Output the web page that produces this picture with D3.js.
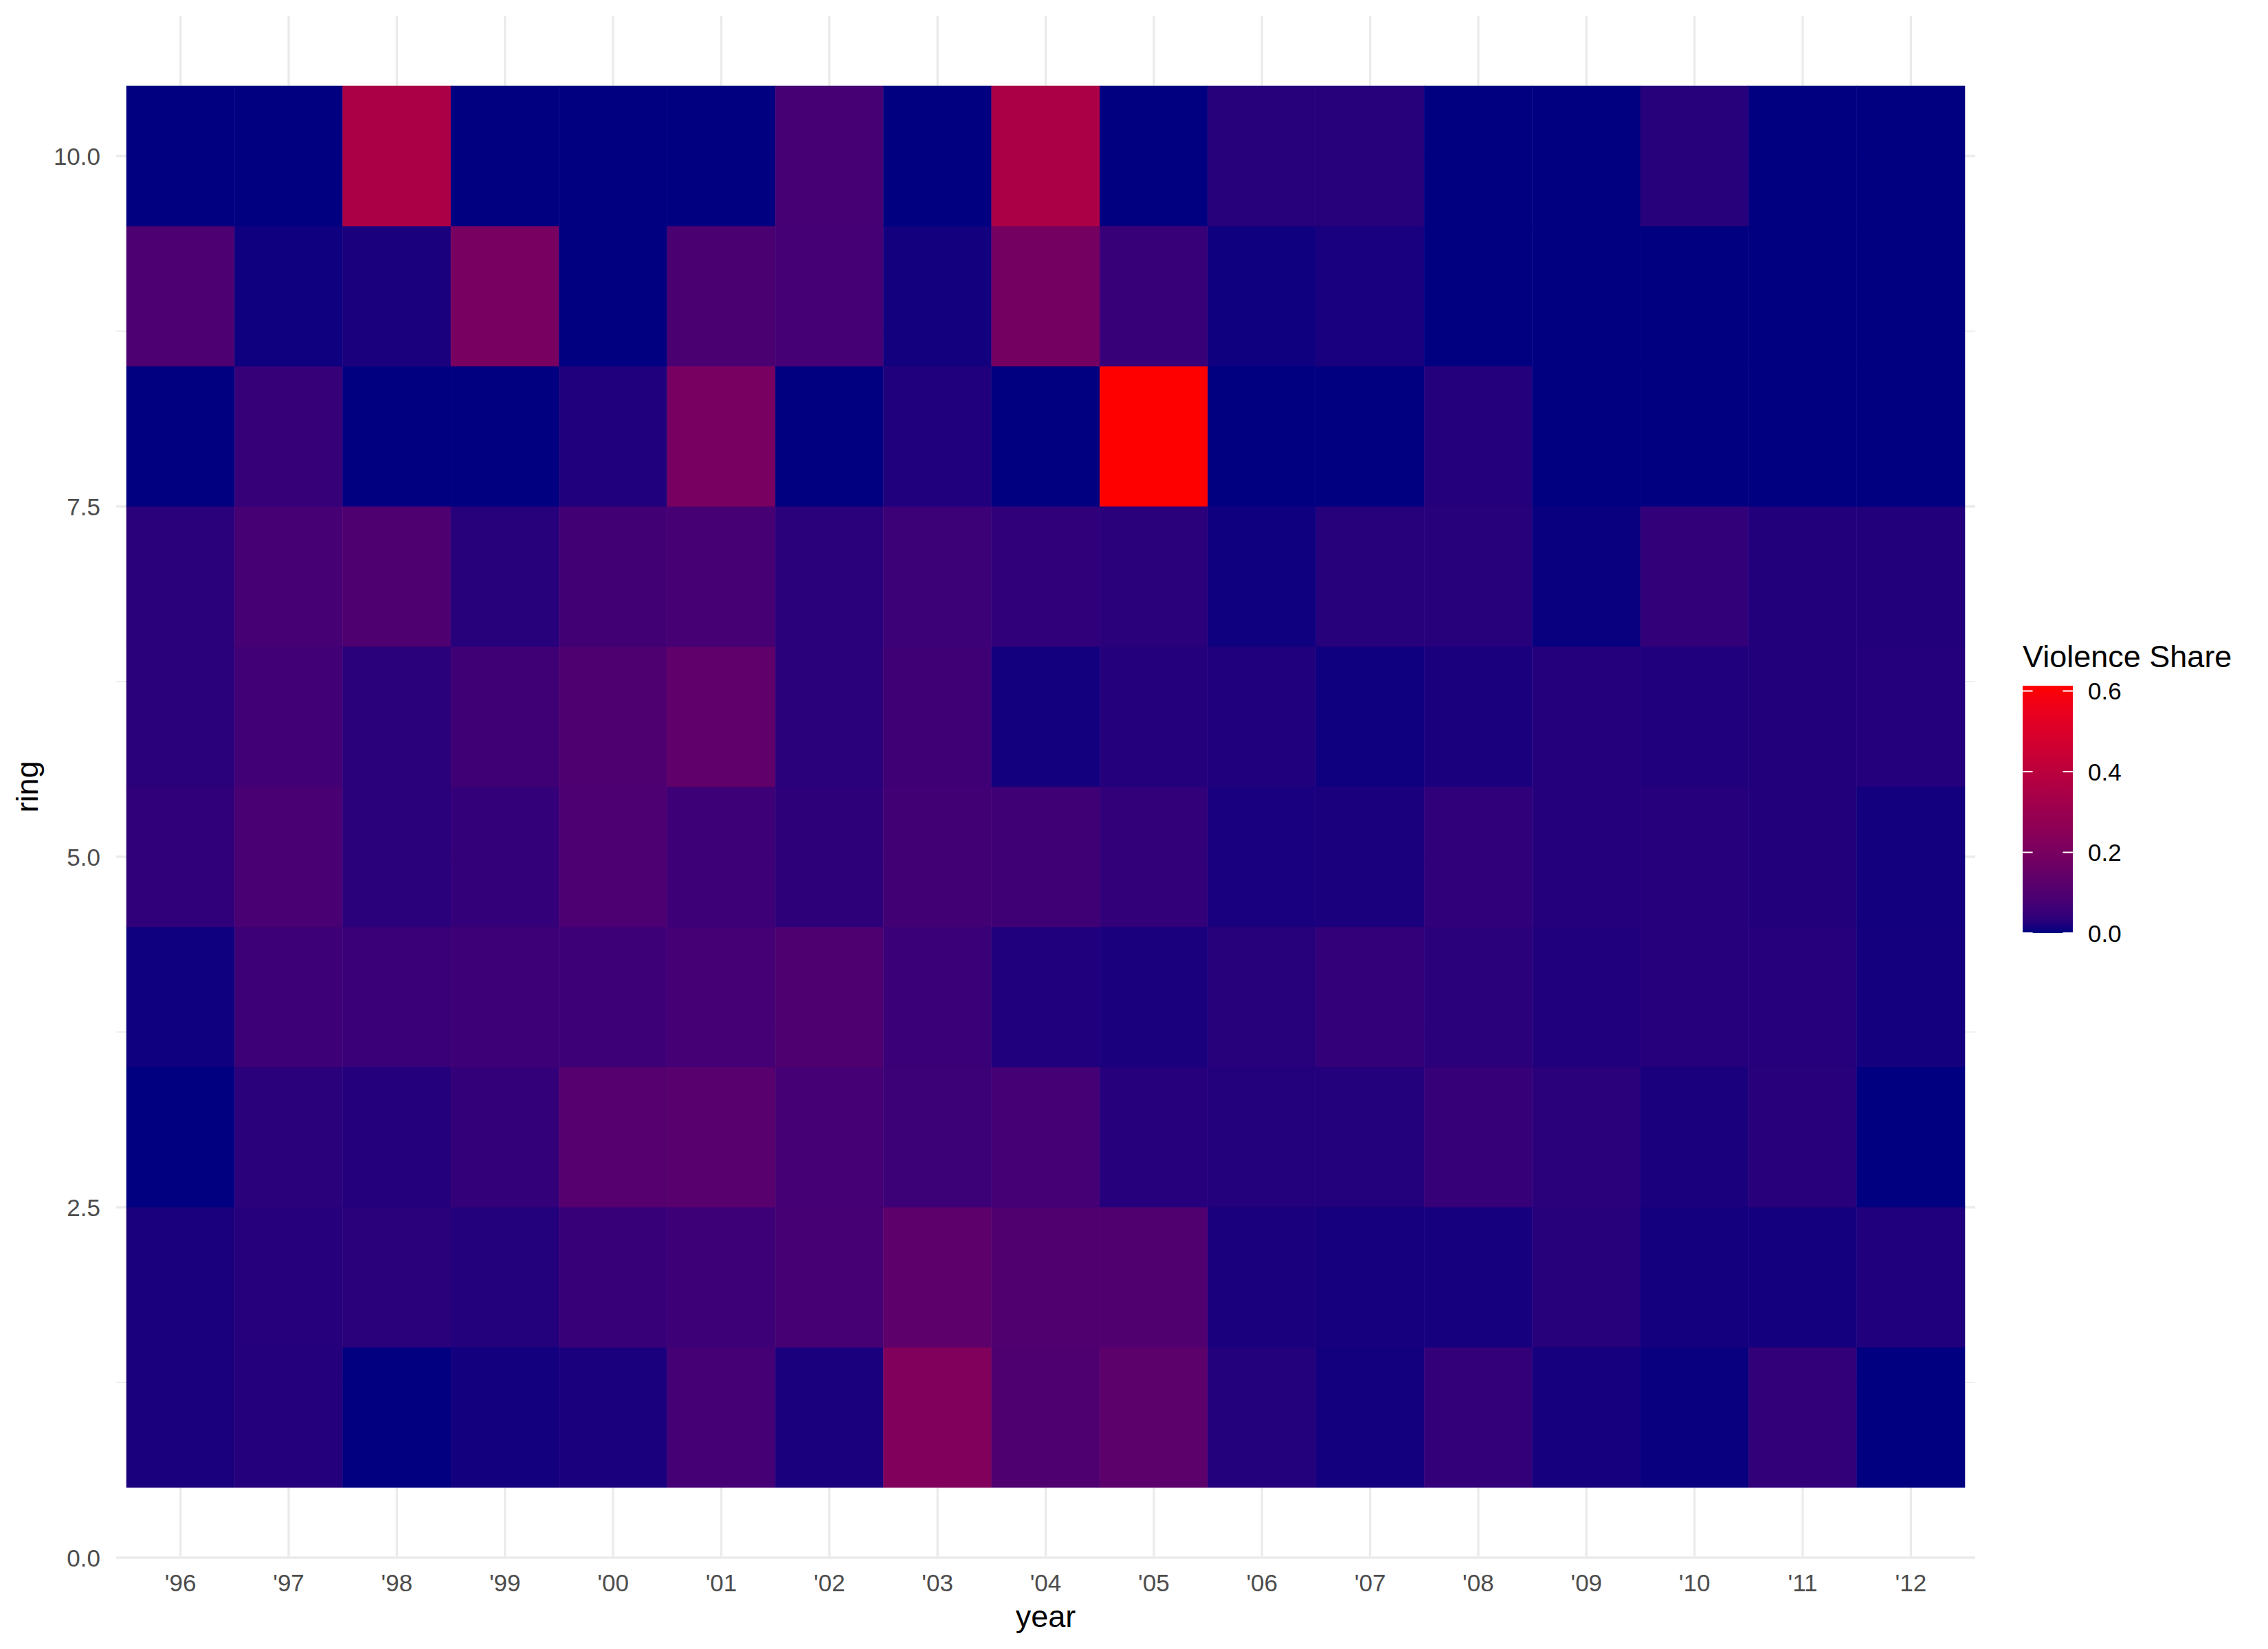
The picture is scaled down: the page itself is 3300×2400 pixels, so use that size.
<!DOCTYPE html>
<html>
<head>
<meta charset="utf-8">
<script src="https://cdn.jsdelivr.net/npm/d3@7"></script>
<style>
  body { margin: 0; background: #fff; }
  svg { font-family: "Liberation Sans", Arial, sans-serif; }
</style>
</head>
<body>
<svg id="chart" width="3300" height="2400"></svg>
<script>
// years on the x axis
var years = ["'96","'97","'98","'99","'00","'01","'02","'03","'04","'05","'06","'07","'08","'09","'10","'11","'12"];
var rings = [1,2,3,4,5,6,7,8,9,10];

// violence share per ring, one value per year
var ring1  = [0.015,0.025,0.001,0.009,0.015,0.074,0.015,0.227,0.096,0.126,0.023,0.009,0.046,0.011,0.004,0.043,0];
var ring2  = [0.015,0.026,0.032,0.023,0.052,0.061,0.078,0.130,0.100,0.100,0.015,0.012,0.012,0.028,0.010,0.010,0.020];
var ring3  = [0,0.032,0.025,0.046,0.110,0.117,0.074,0.058,0.074,0.026,0.023,0.023,0.049,0.032,0.015,0.030,0];
var ring4  = [0.006,0.061,0.055,0.061,0.063,0.074,0.095,0.055,0.020,0.015,0.028,0.046,0.031,0.020,0.026,0.026,0.010];
var ring5  = [0.040,0.083,0.032,0.046,0.090,0.061,0.035,0.070,0.065,0.043,0.013,0.015,0.040,0.025,0.026,0.022,0.009];
var ring6  = [0.031,0.067,0.032,0.065,0.095,0.135,0.032,0.065,0.009,0.025,0.020,0.006,0.015,0.025,0.020,0.022,0.025];
var ring7  = [0.031,0.078,0.095,0.028,0.070,0.078,0.031,0.058,0.040,0.031,0.006,0.028,0.028,0.004,0.043,0.022,0.022];
var ring8  = [0,0.049,0,0,0.020,0.200,0,0.020,0,0.613,0,0,0.025,0,0,0,0];
var ring9  = [0.090,0.006,0.015,0.200,0,0.088,0.074,0.009,0.190,0.052,0.006,0.013,0,0,0,0,0];
var ring10 = [0,0,0.355,0,0,0,0.078,0,0.355,0,0.028,0.028,0,0,0.028,0,0];

var yTicks = [0, 2.5, 5, 7.5, 10];
var legendTicks = [0, 0.2, 0.4, 0.6];

var shareRows = [ring1, ring2, ring3, ring4, ring5, ring6, ring7, ring8, ring9, ring10];

// flatten into tile records
var tiles = [];
rings.forEach(function(r, i) {
    years.forEach(function(yr, j) {
        tiles.push({ year: yr, ring: r, share: shareRows[i][j] });
    });
});

var svg = d3.select("#chart");

var panel = { left: 169, right: 2874, top: 23, bottom: 2267 };

var x = d3.scaleBand()
    .domain(years)
    .range([184, 2859])
    .padding(0);

var y = d3.scaleLinear()
    .domain([0, 11])
    .range([panel.bottom, panel.top]);

var maxShare = d3.max(tiles, function(d) { return d.share; });
var color = d3.scaleLinear()
    .domain([0, maxShare])
    .range(["#000080", "#FF0000"])
    .interpolate(d3.interpolateLab);

var grid = svg.append("g").attr("class", "grid");

// minor horizontal grid lines
grid.selectAll("line.minor")
    .data([1.25, 3.75, 6.25, 8.75])
    .enter().append("line")
    .attr("class", "minor")
    .attr("x1", panel.left).attr("x2", panel.right)
    .attr("y1", function(d) { return y(d); })
    .attr("y2", function(d) { return y(d); })
    .attr("stroke", "#EBEBEB")
    .attr("stroke-width", 1.7);

// major grid lines
grid.selectAll("line.hmajor")
    .data(yTicks)
    .enter().append("line")
    .attr("class", "hmajor")
    .attr("x1", panel.left).attr("x2", panel.right)
    .attr("y1", function(d) { return y(d); })
    .attr("y2", function(d) { return y(d); })
    .attr("stroke", "#EBEBEB")
    .attr("stroke-width", 3.3);

grid.selectAll("line.vmajor")
    .data(years)
    .enter().append("line")
    .attr("class", "vmajor")
    .attr("x1", function(d) { return x(d) + x.bandwidth() / 2; })
    .attr("x2", function(d) { return x(d) + x.bandwidth() / 2; })
    .attr("y1", panel.top).attr("y2", panel.bottom)
    .attr("stroke", "#EBEBEB")
    .attr("stroke-width", 3.3);

// the tiles
svg.append("g")
    .selectAll("rect")
    .data(tiles)
    .enter().append("rect")
    .attr("x", function(d) { return x(d.year); })
    .attr("y", function(d) { return y(d.ring + 0.5); })
    .attr("width", x.bandwidth())
    .attr("height", function(d) { return y(d.ring - 0.5) - y(d.ring + 0.5); })
    .attr("fill", function(d) { return color(d.share); })
    .attr("stroke", function(d) { return color(d.share); })
    .attr("stroke-width", 0.5);

// axes (no tick marks, like theme_minimal)
var xAxis = svg.append("g")
    .attr("transform", "translate(0," + panel.bottom + ")")
    .call(d3.axisBottom(x).tickSize(0).tickPadding(0));
xAxis.select(".domain").remove();
xAxis.selectAll("text")
    .attr("y", 49)
    .attr("dy", null)
    .attr("fill", "#4D4D4D")
    .attr("font-size", 35)
    .attr("font-family", "Liberation Sans, Arial, sans-serif");

var yAxis = svg.append("g")
    .attr("transform", "translate(" + panel.left + ",0)")
    .call(d3.axisLeft(y).tickValues(yTicks).tickFormat(d3.format(".1f")).tickSize(0).tickPadding(0));
yAxis.select(".domain").remove();
yAxis.selectAll("text")
    .attr("x", -23)
    .attr("dy", "0.36em")
    .attr("fill", "#4D4D4D")
    .attr("font-size", 35)
    .attr("font-family", "Liberation Sans, Arial, sans-serif");

// axis titles
svg.append("text")
    .attr("x", (panel.left + panel.right) / 2)
    .attr("y", 2368)
    .attr("text-anchor", "middle")
    .attr("font-size", 45)
    .attr("fill", "#000")
    .text("year");

svg.append("text")
    .attr("transform", "translate(55," + ((panel.top + panel.bottom) / 2) + ") rotate(-90)")
    .attr("text-anchor", "middle")
    .attr("font-size", 45)
    .attr("fill", "#000")
    .text("ring");

// legend colour bar
var legend = { left: 2943, width: 73, top: 998, bottom: 1358 };
var lg = svg.append("g").attr("class", "legend");

var ly = d3.scaleLinear()
    .domain([0, maxShare])
    .range([legend.bottom, legend.top]);

var grad = svg.append("defs").append("linearGradient")
    .attr("id", "shareGrad")
    .attr("x1", 0).attr("y1", 1).attr("x2", 0).attr("y2", 0);
grad.selectAll("stop")
    .data(d3.range(0, 1.0001, 0.05))
    .enter().append("stop")
    .attr("offset", function(d) { return d; })
    .attr("stop-color", function(d) { return color(d * maxShare); });

lg.append("text")
    .attr("x", legend.left)
    .attr("y", 971)
    .attr("font-size", 45)
    .attr("fill", "#000")
    .text("Violence Share");

lg.append("rect")
    .attr("x", legend.left)
    .attr("y", legend.top)
    .attr("width", legend.width)
    .attr("height", legend.bottom - legend.top)
    .attr("fill", "url(#shareGrad)");

var tickLen = legend.width / 5;
lg.selectAll("line.tl")
    .data(legendTicks)
    .enter().append("line")
    .attr("class", "tl")
    .attr("x1", legend.left).attr("x2", legend.left + tickLen)
    .attr("y1", function(d) { return ly(d); })
    .attr("y2", function(d) { return ly(d); })
    .attr("stroke", "#fff").attr("stroke-width", 2);
lg.selectAll("line.tr")
    .data(legendTicks)
    .enter().append("line")
    .attr("class", "tr")
    .attr("x1", legend.left + legend.width - tickLen).attr("x2", legend.left + legend.width)
    .attr("y1", function(d) { return ly(d); })
    .attr("y2", function(d) { return ly(d); })
    .attr("stroke", "#fff").attr("stroke-width", 2);

lg.selectAll("text.lab")
    .data(legendTicks)
    .enter().append("text")
    .attr("class", "lab")
    .attr("x", 3038)
    .attr("y", function(d) { return ly(d); })
    .attr("dy", "0.36em")
    .attr("font-size", 35)
    .attr("fill", "#000")
    .text(function(d) { return d3.format(".1f")(d); });
</script>
</body>
</html>
